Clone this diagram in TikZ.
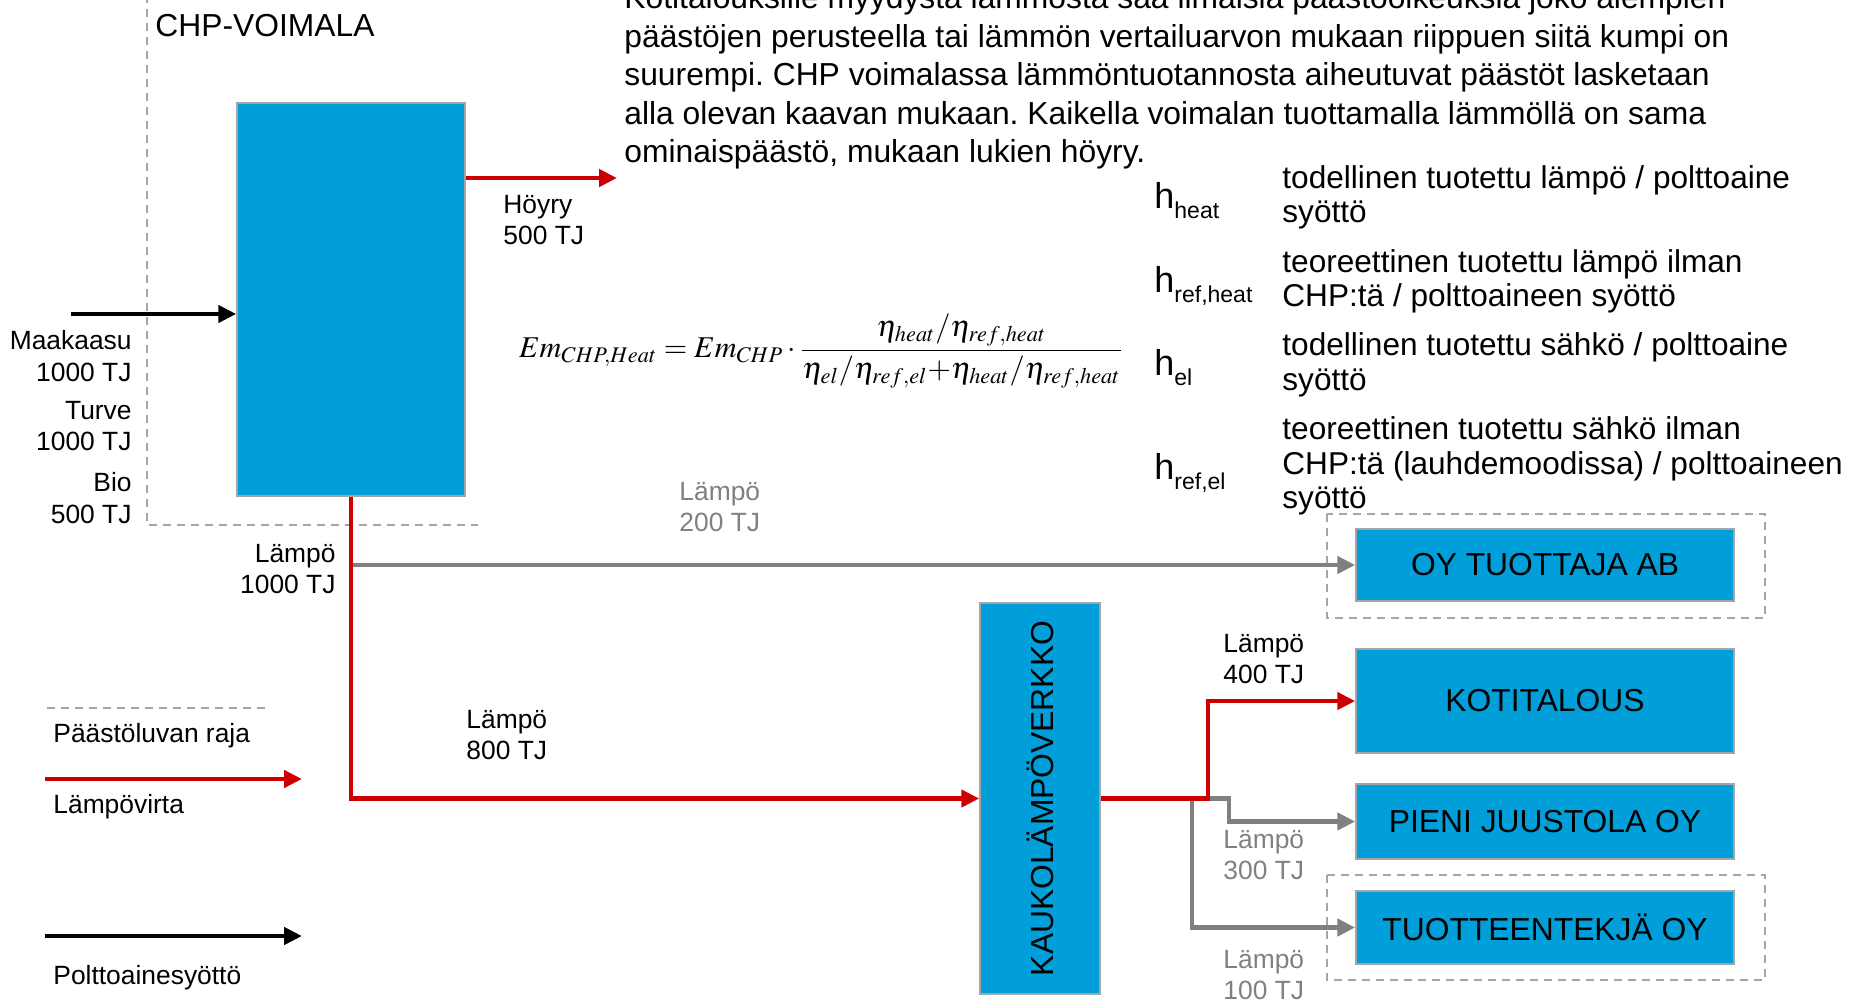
\documentclass[tikz,border=0pt]{standalone}
\usepackage{mathptmx}
\usepackage{fontspec}
\setmainfont{Liberation Sans}
\usetikzlibrary{arrows.meta}
\definecolor{boxblue}{RGB}{0,159,218}
\definecolor{heatred}{RGB}{204,0,0}
\definecolor{flowgray}{RGB}{128,128,128}
\definecolor{edgegray}{RGB}{165,165,165}
\newcommand{\sizeA}{\fontsize{15.9}{19.3}\selectfont}
\newcommand{\sizeB}{\fontsize{13.2}{15.8}\selectfont}
\newcommand{\sizeC}{\fontsize{15.8}{17.3}\selectfont}
\newcommand{\hsym}[1]{{\fontsize{18}{18}\selectfont h}\raisebox{-5pt}{\fontsize{11.5}{12}\selectfont #1}}
\frenchspacing
\begin{document}
\begin{tikzpicture}[x=0.5pt,y=-0.5pt,>={Triangle[length=9pt,width=8.5pt]},
		unit/.style={draw=edgegray,line width=0.75pt,fill=boxblue,inner sep=0pt,font=\sizeA},
		txt/.style={inner sep=0pt,font=\sizeB,align=left},
		heat/.style={->,draw=heatred,line width=2.4pt},
		fuel/.style={->,draw=black,line width=2.4pt},
		flow/.style={->,draw=flowgray,line width=2.4pt},
		limit/.style={draw=edgegray,line width=0.75pt,dash pattern=on 4pt off 3pt}]
	\useasboundingbox (0,0) rectangle (1860,1003);
	% boundaries of the emission permit
	\draw[limit] (147,-5) -- (147,525) -- (478,525);
	\draw[limit] (1327,514) rectangle (1765,618);
	\draw[limit] (1327,875) rectangle (1765,980);
	% units
	\node[unit,minimum width=114pt,minimum height=196.5pt] (chp) at (351,299.5) {};
	\node[unit,minimum width=60pt,minimum height=195.5pt,label={[rotate=90,anchor=center,font=\sizeA]center:KAUKOLÄMPÖVERKKO}] (klv) at (1040,798.5) {};
	\node[unit,minimum width=189pt,minimum height=36pt] (oy) at (1545,565) {OY TUOTTAJA AB};
	\node[unit,minimum width=189pt,minimum height=52pt] (koti) at (1545,701) {KOTITALOUS};
	\node[unit,minimum width=189pt,minimum height=37.5pt] (pieni) at (1545,821.5) {PIENI JUUSTOLA OY};
	\node[unit,minimum width=189pt,minimum height=36.5pt] (tuote) at (1545,927.5) {TUOTTEENTEKJÄ OY};
	\node[inner sep=0pt,font=\sizeA,anchor=west] (chptitle) at (155,26) {CHP-VOIMALA};
	% flows
	\coordinate (fuelin) at (71,314);
	\coordinate (steam) at (617,178);
	\coordinate (jn) at (1208,798.5);
	\draw[fuel] (fuelin) -- (chp.west |- fuelin);
	\draw[heat] (chp.east |- steam) -- (steam);
	\draw[flow] (chp.south |- oy.west) -- (oy.west);
	\draw[heat] (chp.south) |- (klv.west);
	\draw[flow] (jn) -- ++(21,0) |- (pieni.west);
	\draw[flow] (jn) ++(-16,0) |- (tuote.west);
	\draw[heat] (klv.east) -- (jn) |- (koti.west);
	% flow labels
	\node[txt,align=right,anchor=east] (gas) at (132,356) {Maakaasu\\1000 TJ};
	\node[txt,align=right,anchor=east] (peat) at (132,426) {Turve\\1000 TJ};
	\node[txt,align=right,anchor=east] (bio) at (132,498) {Bio\\500 TJ};
	\node[txt,anchor=west] (steamtxt) at (503,220) {Höyry\\500 TJ};
	\node[txt,align=right,anchor=east] (heatout) at (336,569) {Lämpö\\1000 TJ};
	\node[txt,anchor=west,text=flowgray] (heatoy) at (679,507) {Lämpö\\200 TJ};
	\node[txt,anchor=west] (heatklv) at (466,735) {Lämpö\\800 TJ};
	\node[txt,anchor=west] (heatkoti) at (1223,659) {Lämpö\\400 TJ};
	\node[txt,anchor=west,text=flowgray] (heatpieni) at (1223,855) {Lämpö\\300 TJ};
	\node[txt,anchor=west,text=flowgray] (heattuote) at (1223,975) {Lämpö\\100 TJ};
	% explanation
	\node[inner sep=0pt,font=\sizeA,align=left,anchor=west] (intro) at (624,77.5) {Kotitalouksille myydystä lämmöstä saa ilmaisia päästöoikeuksia joko alempien\\päästöjen perusteella tai lämmön vertailuarvon mukaan riippuen siitä kumpi on\\suurempi. CHP voimalassa lämmöntuotannosta aiheutuvat päästöt lasketaan\\alla olevan kaavan mukaan. Kaikella voimalan tuottamalla lämmöllä on sama\\ominaispäästö, mukaan lukien höyry.};
	\node[inner sep=0pt,font=\fontsize{15.1}{18}\selectfont] (eq) at (821,351) {$\displaystyle Em_{CHP,Heat}=Em_{CHP}\cdot\frac{\eta_{heat}/\eta_{ref,heat}}{\eta_{el}/\eta_{ref,el}{+}\eta_{heat}/\eta_{ref,heat}}$};
	\node[inner sep=0pt,anchor=base west] (hA) at (1154,208.5) {\hsym{heat}};
	\node[inner sep=0pt,anchor=base west] (hB) at (1154,292.5) {\hsym{ref,heat}};
	\node[inner sep=0pt,anchor=base west] (hC) at (1154,375.5) {\hsym{el}};
	\node[inner sep=0pt,anchor=base west] (hD) at (1154,479.5) {\hsym{ref,el}};
	\node[inner sep=0pt,font=\sizeC,align=left,anchor=west] (defA) at (1282,197.5) {todellinen tuotettu lämpö / polttoaine\\syöttö};
	\node[inner sep=0pt,font=\sizeC,align=left,anchor=west] (defB) at (1282,281.5) {teoreettinen tuotettu lämpö ilman\\CHP:tä / polttoaineen syöttö};
	\node[inner sep=0pt,font=\sizeC,align=left,anchor=west] (defC) at (1282,365) {todellinen tuotettu sähkö / polttoaine\\syöttö};
	\node[inner sep=0pt,font=\sizeC,align=left,anchor=west] (defD) at (1282,466) {teoreettinen tuotettu sähkö ilman\\CHP:tä (lauhdemoodissa) / polttoaineen\\syöttö};
	% legend
	\coordinate (lgA) at (47,708);
	\coordinate (lgB) at (270,708);
	\coordinate (lgC) at (45,779);
	\coordinate (lgD) at (302,779);
	\coordinate (lgE) at (45,936);
	\coordinate (lgF) at (302,936);
	\draw[limit] (lgA) -- (lgB);
	\draw[heat] (lgC) -- (lgD);
	\draw[fuel] (lgE) -- (lgF);
	\node[txt,anchor=west] (lgtxtA) at (53,736) {Päästöluvan raja};
	\node[txt,anchor=west] (lgtxtB) at (53,807) {Lämpövirta};
	\node[txt,anchor=west] (lgtxtC) at (53,978) {Polttoainesyöttö};
\end{tikzpicture}
\end{document}
